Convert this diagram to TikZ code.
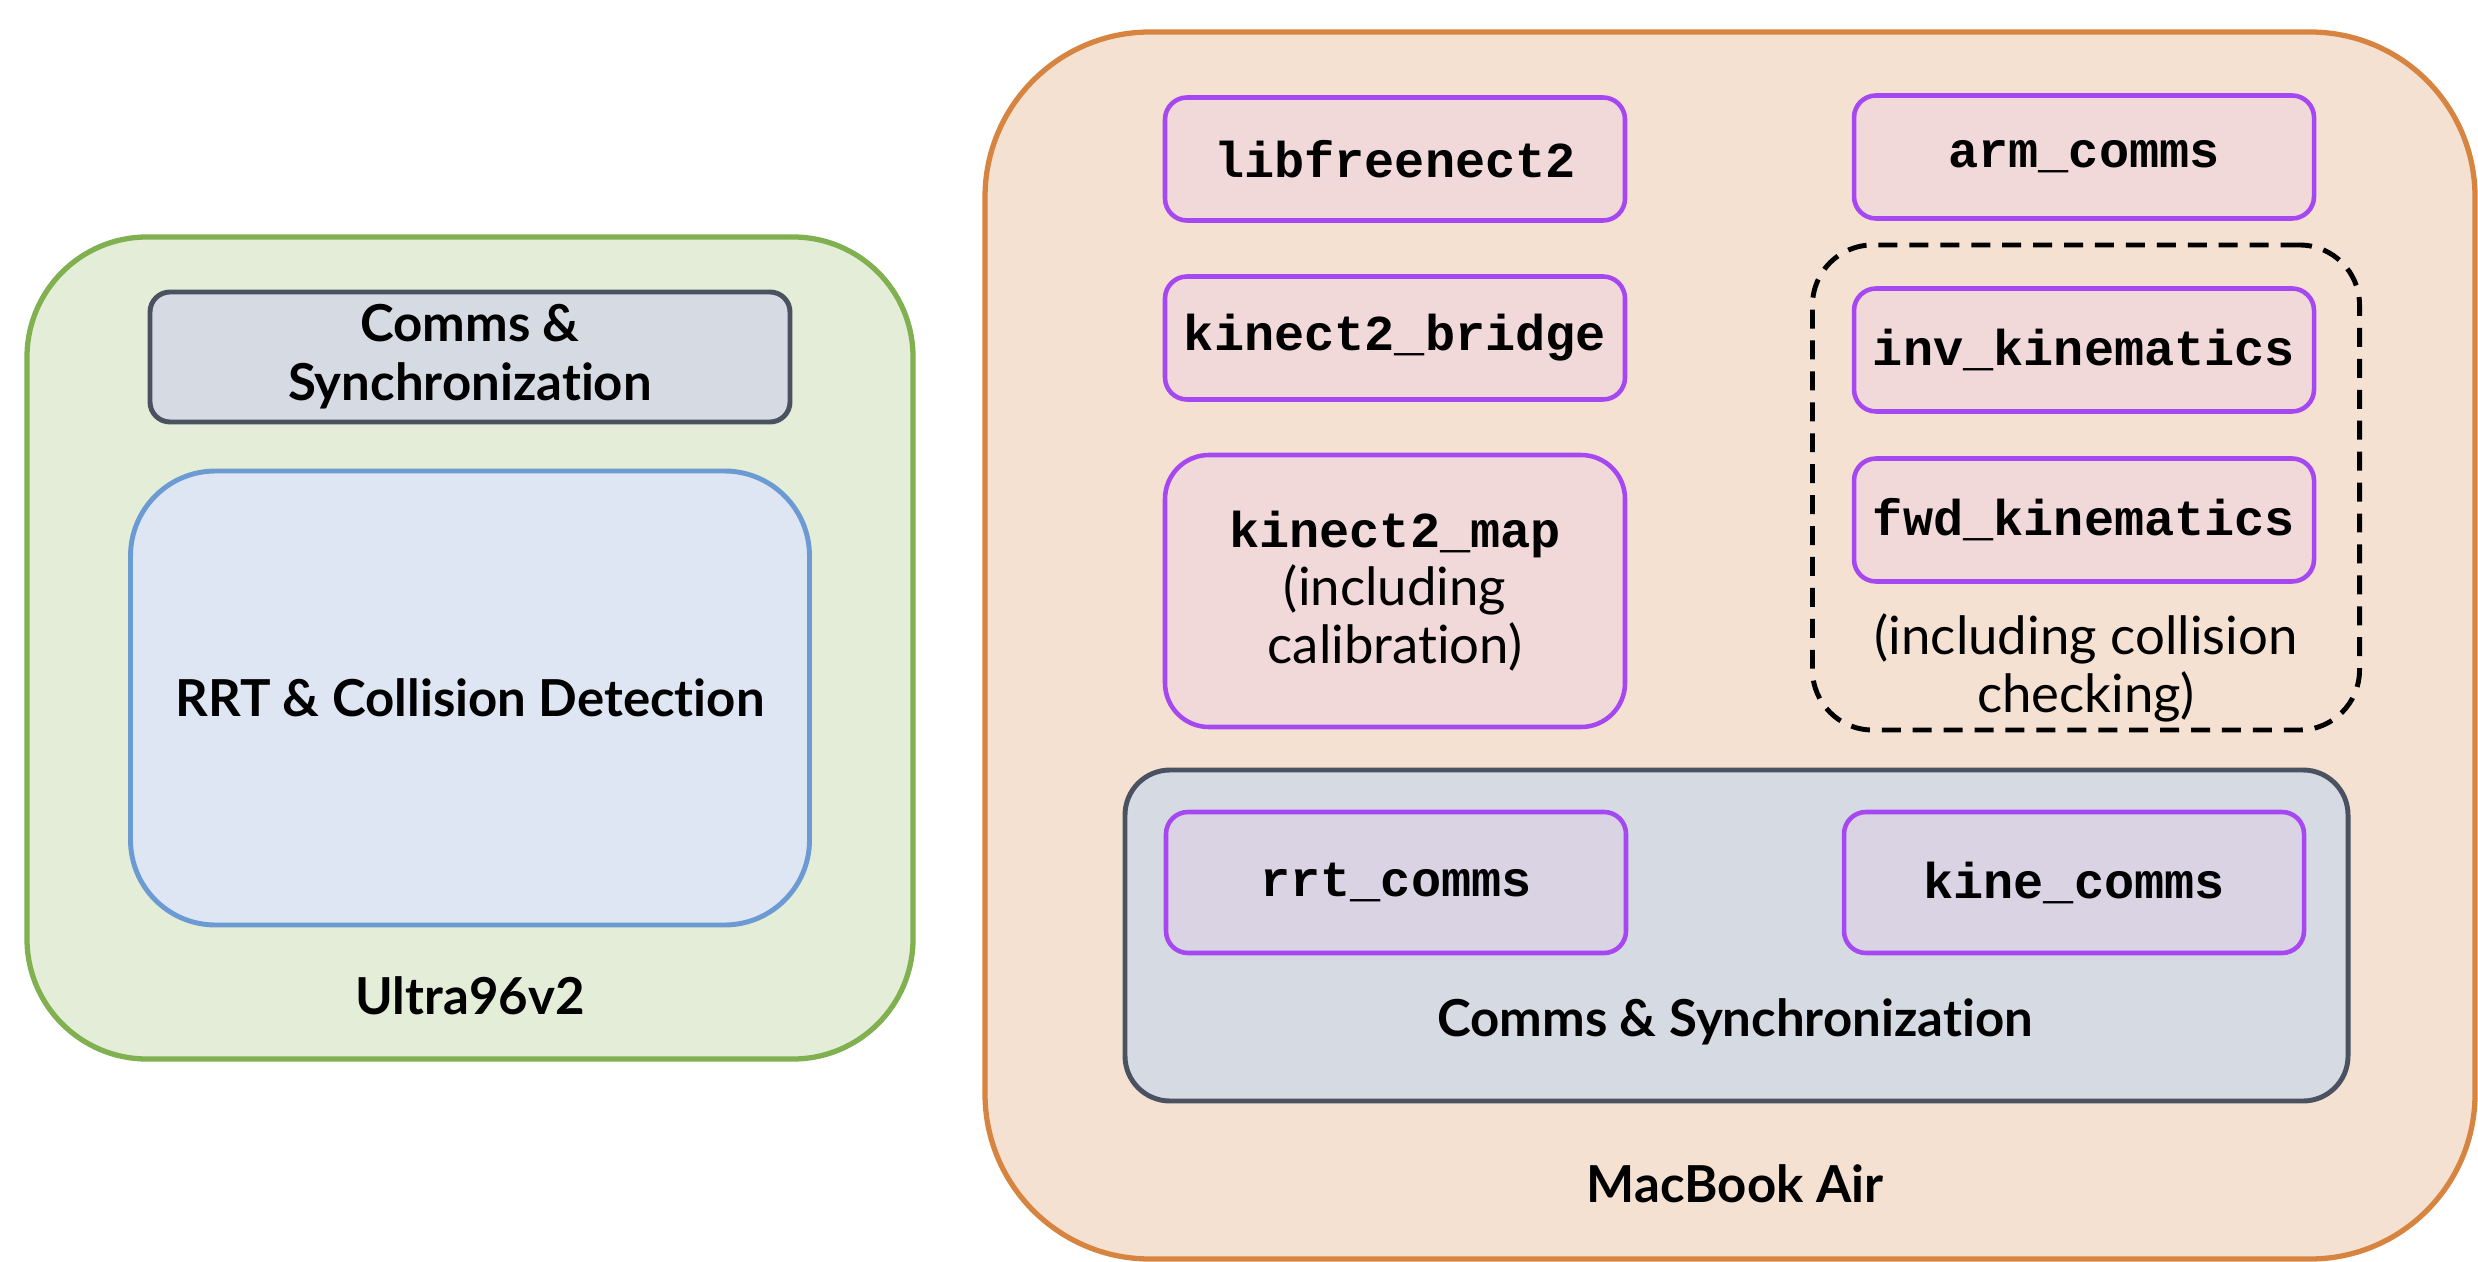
\documentclass[tikz,border=0pt]{standalone}
\usepackage{fontspec}
\setmainfont{Lato}[Ligatures=NoCommon]
\newfontfamily\codefont{Liberation Mono}

\definecolor{boardfill}{RGB}{227,237,215}
\definecolor{boardline}{RGB}{128,176,80}
\definecolor{macfill}{RGB}{245,225,209}
\definecolor{macline}{RGB}{214,132,64}
\definecolor{syncfill}{RGB}{214,218,226}
\definecolor{syncline}{RGB}{74,81,96}
\definecolor{rrtfill}{RGB}{223,230,243}
\definecolor{rrtline}{RGB}{108,154,211}
\definecolor{modfill}{RGB}{241,217,218}
\definecolor{modline}{RGB}{166,72,242}
\definecolor{commfill}{RGB}{217,211,228}

\begin{document}
\begin{tikzpicture}[
    board/.style={draw=boardline, fill=boardfill, line width=1.5pt,
        rounded corners=1.2cm, inner sep=0pt},
    mac/.style={draw=macline, fill=macfill, line width=1.5pt,
        rounded corners=1.65cm, inner sep=0pt},
    sync/.style={draw=syncline, fill=syncfill, line width=1.4pt,
        inner sep=0pt},
    module/.style={draw=modline, fill=modfill, line width=1.3pt,
        rounded corners=0.22cm, minimum width=4.6cm, minimum height=1.23cm,
        inner sep=0pt, align=center},
    code/.style={font=\codefont\bfseries\fontsize{14.3}{16.5}\selectfont},
    label/.style={font=\bfseries\fontsize{14.5}{16.8}\selectfont, align=center},
    note/.style={font=\fontsize{15}{16.5}\selectfont, align=center}
]
    \useasboundingbox (0, 0) rectangle (24.78, 12.61);

    % Ultra96v2 board
    \node[board, minimum width=8.86cm, minimum height=8.22cm]
        (ultra) at (4.70, 6.13) {};
    \node[sync, rounded corners=0.2cm, minimum width=6.40cm,
        minimum height=1.30cm, label] (ultrasync) at (4.70, 9.04)
        {Comms \&\\Synchronization};
    \node[draw=rrtline, fill=rrtfill, line width=1.4pt, rounded corners=0.85cm,
        minimum width=6.79cm, minimum height=4.54cm, label]
        (rrt) at (4.70, 5.63) {RRT \& Collision Detection};
    \node[label] (ultraname) at (4.70, 2.65) {Ultra96v2};

    % MacBook Air
    \node[mac, minimum width=14.90cm, minimum height=12.27cm]
        (mac) at (17.30, 6.155) {};
    \node[module, code] (freenect) at (13.95, 11.02) {libfreenect2};
    \node[module, code] (armcomms) at (20.84, 11.04) {arm\_comms};
    \node[module, code] (bridge) at (13.95, 9.23) {kinect2\_bridge};
    \node[module, note, rounded corners=0.44cm, minimum height=2.72cm]
        (kmap) at (13.95, 6.70)
        {{\codefont\bfseries\fontsize{14.3}{16.5}\selectfont kinect2\_map}\\
        (including\\calibration)};

    \node[draw, line width=1.4pt, dash pattern=on 5.4pt off 3.4pt,
        rounded corners=0.6cm, minimum width=5.47cm, minimum height=4.85cm]
        (kine) at (20.86, 7.735) {};
    \node[module, code] (invkin) at (20.84, 9.11) {inv\_kinematics};
    \node[module, code] (fwdkin) at (20.84, 7.41) {fwd\_kinematics};
    \node[note] (kinenote) at (20.86, 5.93)
        {(including collision\\checking)};

    \node[sync, rounded corners=0.45cm, minimum width=12.23cm,
        minimum height=3.31cm] (macsync) at (17.365, 3.255) {};
    \node[module, code, fill=commfill, minimum height=1.41cm]
        (rrtcomms) at (13.96, 3.785) {rrt\_comms};
    \node[module, code, fill=commfill, minimum height=1.41cm]
        (kinecomms) at (20.74, 3.785) {kine\_comms};
    \node[label] (macsyncname) at (17.35, 2.39) {Comms \& Synchronization};
    \node[label] (macname) at (17.35, 0.77) {MacBook Air};
\end{tikzpicture}
\end{document}
